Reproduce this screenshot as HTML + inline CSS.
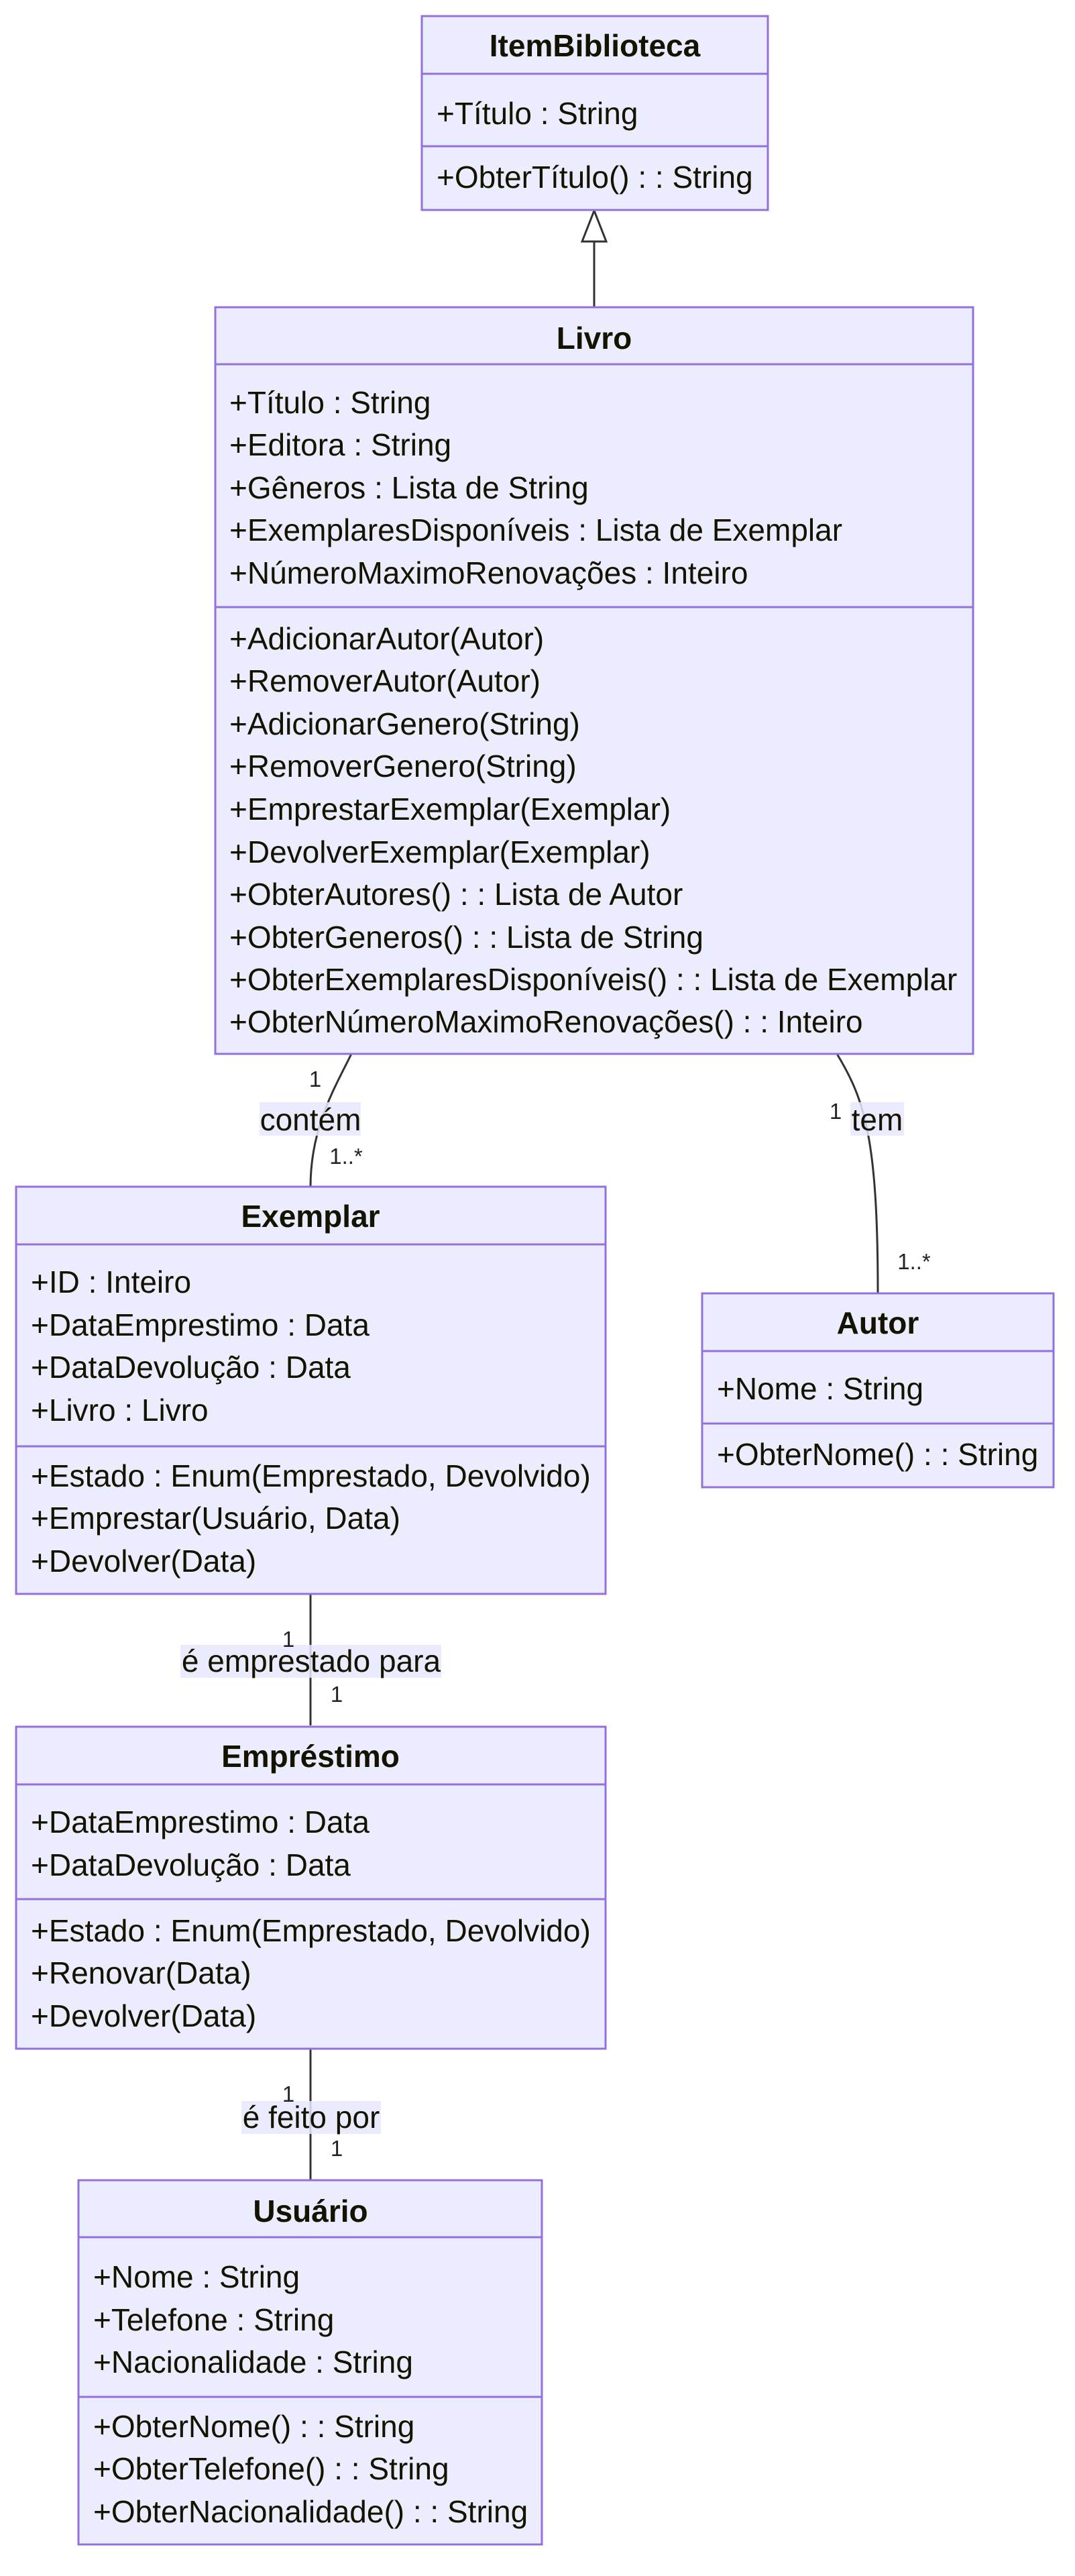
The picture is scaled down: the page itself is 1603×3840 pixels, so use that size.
<!DOCTYPE html>
<html><head><meta charset="utf-8"><style>
html,body{margin:0;padding:0;background:#fff;}
svg{display:block;}
text{font-family:"Liberation Sans",Arial,sans-serif;fill:#131300;}
.t{font-size:46px;}
.b{font-size:46px;font-weight:bold;}
.s{font-size:33px;fill:#222;}
.box{fill:#ECECFF;stroke:#9370DB;stroke-width:3;}
.div{stroke:#9370DB;stroke-width:3;}
.ln{stroke:#333;stroke-width:3;fill:none;}
.lb{fill:rgba(232,232,255,0.85);}
</style></head><body>
<svg width="1603" height="3840" viewBox="0 0 1603 3840" xmlns="http://www.w3.org/2000/svg">
<!-- connectors -->
<line class="ln" x1="886" y1="360" x2="886" y2="458"/>
<polygon points="886,314 868,360 904,360" fill="#fff" stroke="#333" stroke-width="3"/>
<path class="ln" d="M524,1571 C500,1620 463,1680 463,1769"/>
<path class="ln" d="M1248,1571 C1290,1640 1309,1700 1309,1928"/>
<line class="ln" x1="463" y1="2376" x2="463" y2="2572"/>
<line class="ln" x1="463" y1="3054" x2="463" y2="3250"/>

<!-- labels -->
<rect class="lb" x="387" y="1643" width="151" height="50"/>
<text class="t" x="463" y="1685" text-anchor="middle">contém</text>
<rect class="lb" x="1268" y="1643" width="80" height="50"/>
<text class="t" x="1308" y="1685" text-anchor="middle">tem</text>
<rect class="lb" x="269" y="2452" width="389" height="49"/>
<text class="t" x="464" y="2492" text-anchor="middle">é emprestado para</text>
<rect class="lb" x="360" y="3132" width="208" height="49"/>
<text class="t" x="464" y="3172" text-anchor="middle">é feito por</text>
<text class="s" x="470" y="1620" text-anchor="middle">1</text>
<text class="s" x="516" y="1735" text-anchor="middle">1..*</text>
<text class="s" x="1246" y="1668" text-anchor="middle">1</text>
<text class="s" x="1363" y="1892" text-anchor="middle">1..*</text>
<text class="s" x="430" y="2455" text-anchor="middle">1</text>
<text class="s" x="502" y="2537" text-anchor="middle">1</text>
<text class="s" x="430" y="3133" text-anchor="middle">1</text>
<text class="s" x="502" y="3214" text-anchor="middle">1</text>

<!-- ItemBiblioteca -->
<rect class="box" x="629" y="24" width="516" height="289"/>
<line class="div" x1="629" y1="110" x2="1145" y2="110"/>
<line class="div" x1="629" y1="218" x2="1145" y2="218"/>
<text class="b" x="887" y="84" text-anchor="middle">ItemBiblioteca</text>
<text class="t" x="651" y="185">+Título : String</text>
<text class="t" x="651" y="280">+ObterTítulo() : : String</text>

<!-- Livro -->
<rect class="box" x="321" y="458" width="1130" height="1113"/>
<line class="div" x1="321" y1="543" x2="1451" y2="543"/>
<line class="div" x1="321" y1="905" x2="1451" y2="905"/>
<text class="b" x="886" y="520" text-anchor="middle">Livro</text>
<text class="t" x="342" y="616">+Título : String</text>
<text class="t" x="342" y="679">+Editora : String</text>
<text class="t" x="342" y="743">+Gêneros : Lista de String</text>
<text class="t" x="342" y="806">+ExemplaresDisponíveis : Lista de Exemplar</text>
<text class="t" x="342" y="870">+NúmeroMaximoRenovações : Inteiro</text>
<text class="t" x="342" y="968">+AdicionarAutor(Autor)</text>
<text class="t" x="342" y="1031">+RemoverAutor(Autor)</text>
<text class="t" x="342" y="1095">+AdicionarGenero(String)</text>
<text class="t" x="342" y="1158">+RemoverGenero(String)</text>
<text class="t" x="342" y="1222">+EmprestarExemplar(Exemplar)</text>
<text class="t" x="342" y="1286">+DevolverExemplar(Exemplar)</text>
<text class="t" x="342" y="1349">+ObterAutores() : : Lista de Autor</text>
<text class="t" x="342" y="1413">+ObterGeneros() : : Lista de String</text>
<text class="t" x="342" y="1476">+ObterExemplaresDisponíveis() : : Lista de Exemplar</text>
<text class="t" x="342" y="1539">+ObterNúmeroMaximoRenovações() : : Inteiro</text>

<!-- Exemplar -->
<rect class="box" x="24" y="1769" width="879" height="607"/>
<line class="div" x1="24" y1="1855" x2="903" y2="1855"/>
<line class="div" x1="24" y1="2156" x2="903" y2="2156"/>
<text class="b" x="463" y="1829" text-anchor="middle">Exemplar</text>
<text class="t" x="46" y="1927">+ID : Inteiro</text>
<text class="t" x="46" y="1991">+DataEmprestimo : Data</text>
<text class="t" x="46" y="2054">+DataDevolução : Data</text>
<text class="t" x="46" y="2118">+Livro : Livro</text>
<text class="t" x="46" y="2216">+Estado : Enum(Emprestado, Devolvido)</text>
<text class="t" x="46" y="2279">+Emprestar(Usuário, Data)</text>
<text class="t" x="46" y="2343">+Devolver(Data)</text>

<!-- Autor -->
<rect class="box" x="1047" y="1928" width="524" height="289"/>
<line class="div" x1="1047" y1="2014" x2="1571" y2="2014"/>
<line class="div" x1="1047" y1="2122" x2="1571" y2="2122"/>
<text class="b" x="1309" y="1988" text-anchor="middle">Autor</text>
<text class="t" x="1069" y="2086">+Nome : String</text>
<text class="t" x="1069" y="2184">+ObterNome() : : String</text>

<!-- Empréstimo -->
<rect class="box" x="24" y="2574" width="879" height="480"/>
<line class="div" x1="24" y1="2660" x2="903" y2="2660"/>
<line class="div" x1="24" y1="2831" x2="903" y2="2831"/>
<text class="b" x="463" y="2634" text-anchor="middle">Empréstimo</text>
<text class="t" x="46" y="2732">+DataEmprestimo : Data</text>
<text class="t" x="46" y="2796">+DataDevolução : Data</text>
<text class="t" x="46" y="2894">+Estado : Enum(Emprestado, Devolvido)</text>
<text class="t" x="46" y="2957">+Renovar(Data)</text>
<text class="t" x="46" y="3021">+Devolver(Data)</text>

<!-- Usuário -->
<rect class="box" x="117" y="3250" width="691" height="543"/>
<line class="div" x1="117" y1="3335" x2="808" y2="3335"/>
<line class="div" x1="117" y1="3573" x2="808" y2="3573"/>
<text class="b" x="463" y="3312" text-anchor="middle">Usuário</text>
<text class="t" x="139" y="3410">+Nome : String</text>
<text class="t" x="139" y="3474">+Telefone : String</text>
<text class="t" x="139" y="3537">+Nacionalidade : String</text>
<text class="t" x="139" y="3633">+ObterNome() : : String</text>
<text class="t" x="139" y="3696">+ObterTelefone() : : String</text>
<text class="t" x="139" y="3760">+ObterNacionalidade() : : String</text>
</svg>
</body></html>
